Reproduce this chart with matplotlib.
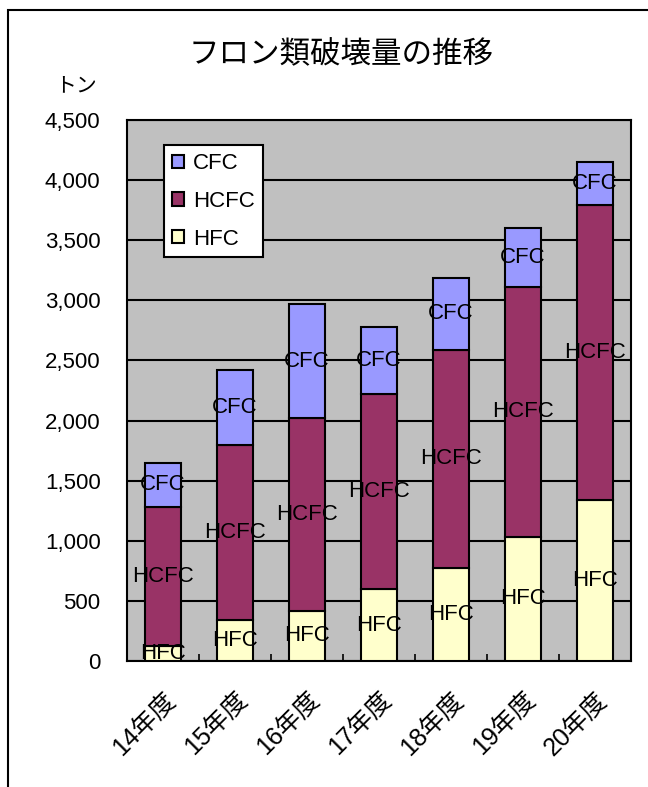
import matplotlib
matplotlib.use('Agg')
import matplotlib.pyplot as plt
import numpy as np
from matplotlib.patches import Rectangle
from matplotlib.ticker import FuncFormatter

plt.rcParams['font.family'] = ['Liberation Sans', 'Noto Sans CJK JP', 'DejaVu Sans']
jp = ['Noto Sans CJK JP', 'DejaVu Sans']

years = ['14年度', '15年度', '16年度', '17年度', '18年度', '19年度', '20年度']
hfc = [125, 340, 420, 600, 775, 1035, 1340]
hcfc = [1155, 1460, 1600, 1620, 1815, 2075, 2450]
cfc = [370, 625, 950, 560, 600, 490, 360]

series = [('HFC', hfc, '#FFFFCC'), ('HCFC', hcfc, '#993366'), ('CFC', cfc, '#9999FF')]

fig = plt.figure(figsize=(6.48, 7.87), dpi=100)
fig.patches.append(Rectangle((8 / 648, -0.1), 1.2, 1.1 - 10 / 787, transform=fig.transFigure,
                             fill=False, edgecolor='black', linewidth=1.5))

ax = fig.add_axes([0.196, 0.160, 0.778, 0.6875])
ax.set_facecolor('#C0C0C0')

x = np.arange(len(years))
bottom = np.zeros(len(years))
handles = {}
for name, vals, color in series:
    vals = np.array(vals, dtype=float)
    bars = ax.bar(x, vals, 0.5, bottom=bottom, color=color, edgecolor='black',
                  linewidth=1.5, label=name, zorder=3)
    handles[name] = bars
    for xi, b, v in zip(x, bottom, vals):
        ax.text(xi, b + v / 2, name, ha='center', va='center', fontsize=16, zorder=4)
    bottom += vals

ax.set_xlim(-0.5, len(years) - 0.5)
ax.set_ylim(0, 4500)
ax.set_yticks(np.arange(0, 4501, 500))
ax.yaxis.set_major_formatter(FuncFormatter(lambda v, p: f'{int(v):,}'))
ax.grid(axis='y', color='black', linewidth=1.5, zorder=1)
ax.tick_params(axis='y', length=0, labelsize=16, pad=19)

ax.set_xticks(x)
ax.set_xticklabels(years, rotation=45, ha='right', va='top', rotation_mode='anchor', fontsize=18)
ax.set_xticks(np.arange(-0.5, len(years) - 0.4, 1), minor=True)
ax.tick_params(axis='x', which='major', length=0, pad=19)
ax.tick_params(axis='x', which='minor', direction='in', length=5, width=1.2)
for s in ax.spines.values():
    s.set_linewidth(1.5)

fig.text(341 / 648, 1 - 55 / 787, 'フロン類破壊量の推移', fontsize=22, family=jp,
         ha='center', va='center')
fig.text(55 / 648, 1 - 85 / 787, 'トン', fontsize=15, family=jp, va='center')

leg = ax.legend([handles['CFC'], handles['HCFC'], handles['HFC']], ['CFC', 'HCFC', 'HFC'],
                loc='upper left', bbox_to_anchor=(0.074, 0.953), fontsize=16, frameon=True,
                fancybox=False, edgecolor='black', handlelength=0.55, handleheight=0.55,
                handletextpad=0.4, borderpad=0.35, labelspacing=0.75, framealpha=1,
                borderaxespad=0)
leg.get_frame().set_linewidth(1.5)

plt.savefig('out.png', dpi=100)
